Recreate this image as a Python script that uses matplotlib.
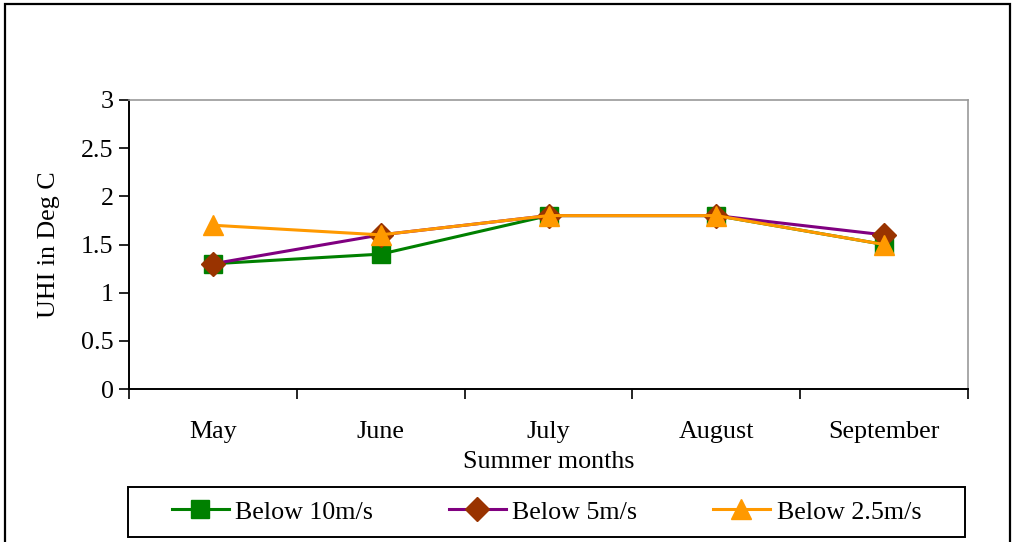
import matplotlib
matplotlib.use("Agg")
import matplotlib.pyplot as plt
from matplotlib.patches import Rectangle
import numpy as np

months = ["May", "June", "July", "August", "September"]
below_10 = [1.3, 1.4, 1.8, 1.8, 1.5]
below_5 = [1.3, 1.6, 1.8, 1.8, 1.6]
below_2_5 = [1.7, 1.6, 1.8, 1.8, 1.5]
y_ticks = [0, 0.5, 1, 1.5, 2, 2.5, 3]
y_tick_labels = ["0", "0.5", "1", "1.5", "2", "2.5", "3"]

plt.rcParams["font.family"] = ["Liberation Serif", "DejaVu Serif"]
FS = 18.7

W, H = 1014, 542
fig = plt.figure(figsize=(W / 100, H / 100), dpi=100)

# outer frame around the whole chart
fig.patches.append(Rectangle((5 / W, -0.05), (1010 - 5) / W, 1.05 - 4 / H,
                             transform=fig.transFigure, fill=False,
                             edgecolor="black", linewidth=1.6, zorder=0))
# legend box spanning the plot width
fig.patches.append(Rectangle((128 / W, 1 - 537 / H), (965 - 128) / W, 50 / H,
                             transform=fig.transFigure, fill=False,
                             edgecolor="black", linewidth=1.4, zorder=1))

ax = fig.add_axes([129 / W, 1 - 389 / H, (968 - 129) / W, (389 - 100) / H])
x = np.arange(len(months))

ax.plot(x, below_10, color="#008000", linewidth=2.2, marker="s",
        markersize=13, markerfacecolor="#008000", markeredgecolor="#008000",
        label="Below 10m/s", zorder=3)
ax.plot(x, below_5, color="#800080", linewidth=2.2, marker="D",
        markersize=12.5, markerfacecolor="#993300", markeredgecolor="#993300",
        label="Below 5m/s", zorder=4)
ax.plot(x, below_2_5, color="#FF9900", linewidth=2.2, marker="^",
        markersize=15, markerfacecolor="#FF9900", markeredgecolor="#FF9900",
        label="Below 2.5m/s", zorder=5)

ax.set_xlim(-0.5, len(months) - 0.5)
ax.set_ylim(0, 3)
ax.set_yticks(y_ticks)
ax.set_yticklabels(y_tick_labels, fontsize=FS)
ax.set_xticks(x)
ax.set_xticklabels(months, fontsize=FS)
ax.tick_params(axis="x", which="major", length=0, pad=23)
ax.set_xticks(np.arange(-0.5, len(months), 1.0), minor=True)
ax.tick_params(axis="x", which="minor", length=7, width=1.2, direction="out")
ax.tick_params(axis="y", length=7, width=1.2, direction="out", pad=4)

for side in ("top", "right"):
    ax.spines[side].set_color("#999999")
    ax.spines[side].set_linewidth(1.2)
for side in ("left", "bottom"):
    ax.spines[side].set_color("black")
    ax.spines[side].set_linewidth(1.4)

ax.set_xlabel("Summer months", fontsize=FS, labelpad=6)
ax.set_ylabel("UHI in Deg C", fontsize=FS, labelpad=15)

leg = fig.legend(loc="center",
                 bbox_to_anchor=((128 + 965) / 2 / W, 1 - 512 / H),
                 ncol=3, fontsize=FS, frameon=False, handlelength=2.2,
                 handletextpad=0.25, columnspacing=2.9, borderpad=0.45)

fig.savefig("out.png", dpi=100, facecolor="white")
